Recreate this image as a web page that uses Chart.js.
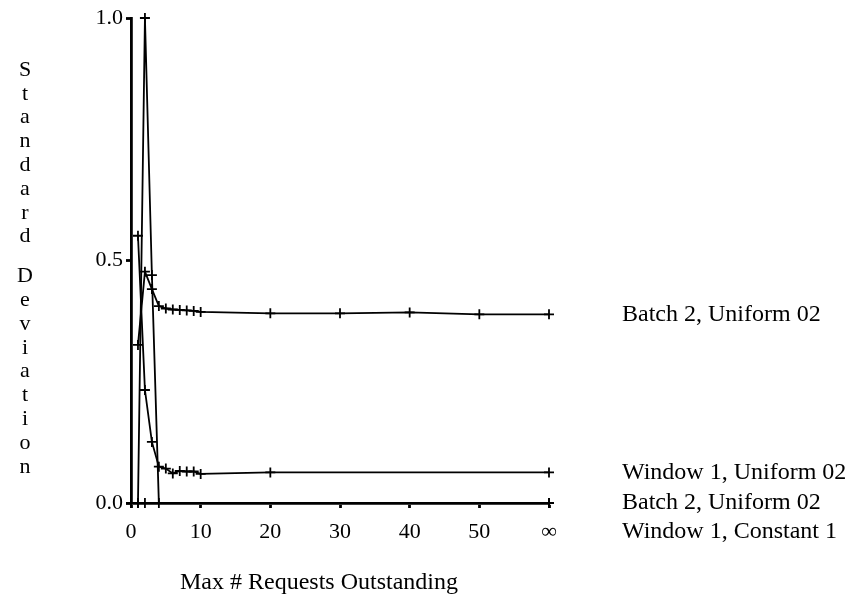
<!DOCTYPE html>
<html>
<head>
<meta charset="utf-8">
<script src="https://cdn.jsdelivr.net/npm/chart.js@4/dist/chart.umd.min.js"></script>
<style>
  body { margin: 0; background: #fff; }
  canvas { display: block; }
</style>
</head>
<body>
<canvas id="sdChart" width="853" height="604"></canvas>
<script>
// x positions: 60 stands for the "infinite" outstanding-request limit
const INF = 60;
const xTicks = [0, 10, 20, 30, 40, 50, INF];
const yTicks = [0, 0.5, 1.0];

const xBatchUniform = [1, 2, 3, 4, 5, 6, 7, 8, 9, 10, 20, 30, 40, 50, INF];
const batchUniform  = [0.326, 0.477, 0.441, 0.406, 0.401, 0.399, 0.398, 0.397, 0.396, 0.394, 0.391, 0.391, 0.393, 0.389, 0.389];

const xWindowUniform = [1, 2, 3, 4, 5, 6, 7, 8, 9, 10, 20, INF];
const windowUniform  = [0.551, 0.233, 0.126, 0.075, 0.071, 0.061, 0.066, 0.065, 0.065, 0.060, 0.063, 0.063];

const xBatchZero = [0, 1, 2, INF];
const batchZero  = [0, 0, 0, 0];

const xWindowConstant = [1, 2, 3, 4, INF];
const windowConstant  = [0, 1.0, 0.47, 0, 0];

const seriesNames = ["Batch 2, Uniform 02", "Window 1, Uniform 02", "Batch 2, Uniform 02", "Window 1, Constant 1"];

const FONT = '"Liberation Serif", "Times New Roman", serif';

function toPoints(xs, ys) {
  return xs.map((x, i) => ({ x: x, y: ys[i] }));
}

function makeSeries(label, xs, ys) {
  return {
    label: label,
    data: toPoints(xs, ys),
    showLine: true,
    borderColor: "#000",
    borderWidth: 1.8,
    pointStyle: "cross",
    pointRadius: 5,
    pointBorderWidth: 1.8,
    pointBorderColor: "#000",
    clip: false,
  };
}

// series names next to the last point, pushed down when they would overlap
const endLabels = {
  id: "endLabels",
  afterDraw(chart) {
    const ctx = chart.ctx;
    ctx.save();
    ctx.fillStyle = "#000";
    ctx.font = "24px " + FONT;
    ctx.textBaseline = "middle";
    ctx.textAlign = "left";
    const items = chart.data.datasets.map((ds, i) => {
      const pts = chart.getDatasetMeta(i).data;
      return { text: ds.label, y: pts[pts.length - 1].y, order: i };
    });
    items.sort((a, b) => a.y - b.y || a.order - b.order);
    let prev = -Infinity;
    items.forEach((it) => {
      const y = Math.max(it.y, prev + 29);
      ctx.fillText(it.text, 622, y);
      prev = y;
    });

    // x axis title
    ctx.textAlign = "center";
    ctx.fillText("Max # Requests Outstanding", 319, 583);

    // y axis title, one letter per line
    ctx.font = "22px " + FONT;
    let y = 70;
    "Standard".split("").forEach((ch) => { ctx.fillText(ch, 25, y); y += 23.8; });
    y += 16;
    "Deviation".split("").forEach((ch) => { ctx.fillText(ch, 25, y); y += 23.8; });
    ctx.restore();
  },
};

new Chart(document.getElementById("sdChart"), {
  type: "scatter",
  data: {
    datasets: [
      makeSeries(seriesNames[0], xBatchUniform, batchUniform),
      makeSeries(seriesNames[1], xWindowUniform, windowUniform),
      makeSeries(seriesNames[2], xBatchZero, batchZero),
      makeSeries(seriesNames[3], xWindowConstant, windowConstant),
    ],
  },
  options: {
    responsive: false,
    animation: false,
    layout: { padding: { left: 0, top: 18, right: 304, bottom: 0 } },
    plugins: {
      legend: { display: false },
      tooltip: { enabled: false },
    },
    scales: {
      x: {
        type: "linear",
        min: 0,
        max: INF,
        afterBuildTicks: (scale) => { scale.ticks = xTicks.map((v) => ({ value: v })); },
        afterFit: (scale) => { scale.height = 101; },
        border: { color: "#000", width: 2.8 },
        grid: { drawOnChartArea: false, drawTicks: true, tickLength: 5, tickWidth: 2.8, color: "#000" },
        ticks: {
          color: "#000",
          padding: 11,
          font: { family: FONT, size: 22 },
          maxRotation: 0,
          callback: (v) => (v === INF ? "\u221E" : String(v)),
        },
      },
      y: {
        min: 0,
        max: 1.0,
        afterBuildTicks: (scale) => { scale.ticks = yTicks.map((v) => ({ value: v })); },
        afterFit: (scale) => { scale.width = 131; },
        border: { color: "#000", width: 2.8 },
        grid: { drawOnChartArea: false, drawTicks: true, tickLength: 5, tickWidth: 2.8, color: "#000" },
        ticks: {
          color: "#000",
          padding: 3,
          font: { family: FONT, size: 22 },
          callback: (v) => v.toFixed(1),
        },
      },
    },
  },
  plugins: [endLabels],
});
</script>
</body>
</html>
